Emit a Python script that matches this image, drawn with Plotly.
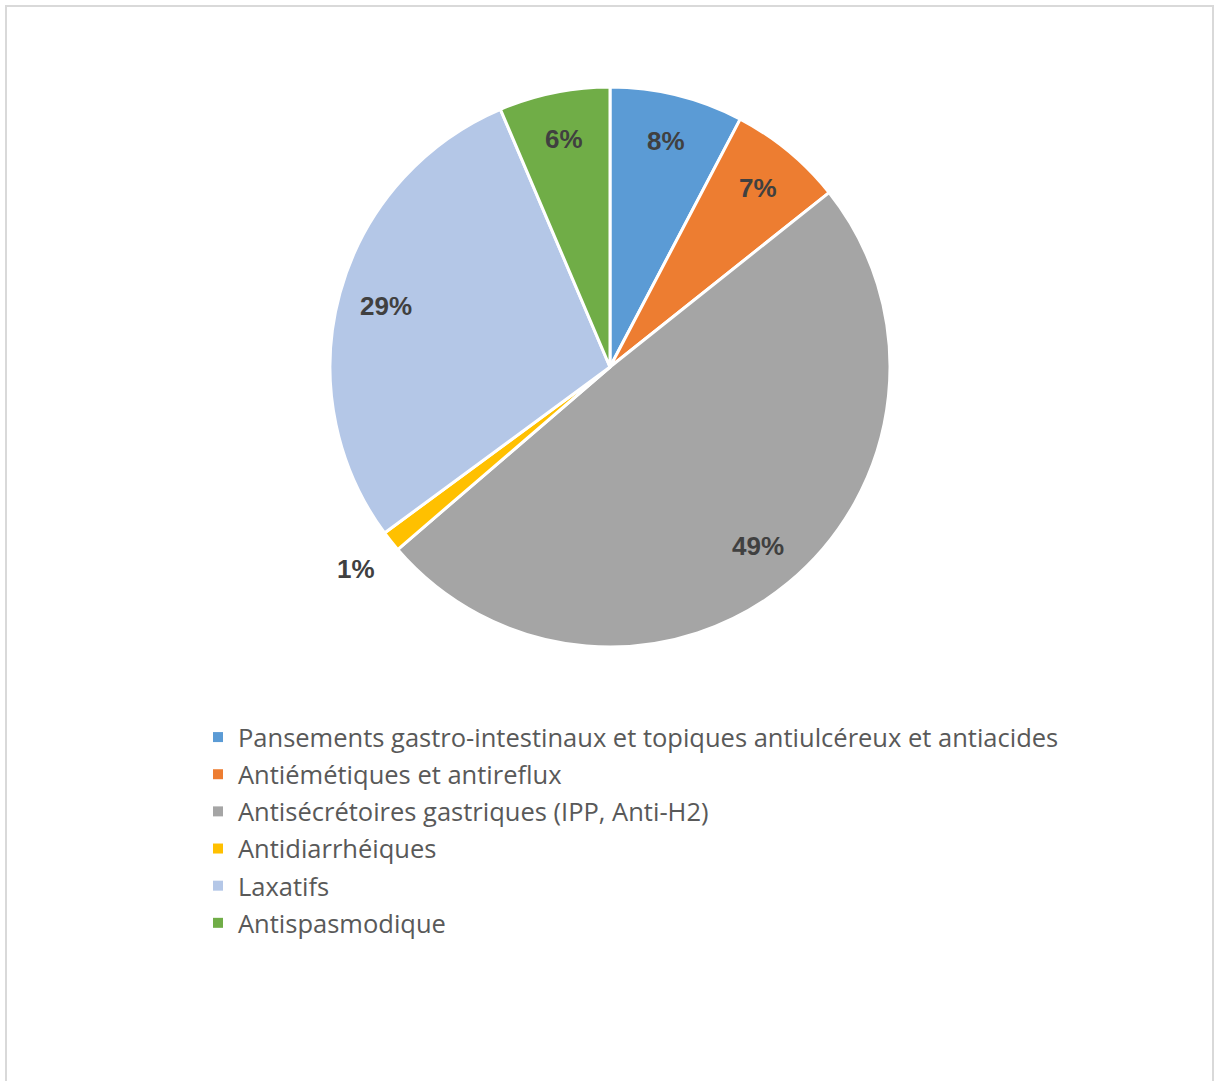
import math
import plotly.graph_objects as go

categories = [
    "Pansements gastro-intestinaux et topiques antiulcéreux et antiacides",
    "Antiémétiques et antireflux",
    "Antisécrétoires gastriques (IPP, Anti-H2)",
    "Antidiarrhéiques",
    "Laxatifs",
    "Antispasmodique",
]
values = [7.7, 6.6, 49.4, 1.2, 28.7, 6.4]
colors = ["#5B9BD5", "#ED7D31", "#A5A5A5", "#FFC000", "#B4C7E7", "#70AD47"]
label_outside = [False, False, False, True, False, False]

W, H = 1214, 1081
cx, cy, r = 610, 367, 280
x0d, x1d = (cx - r) / W, (cx + r) / W
y0d, y1d = (H - cy - r) / H, (H - cy + r) / H

fig = go.Figure()
fig.add_trace(go.Pie(
    labels=categories,
    values=values,
    sort=False,
    direction="clockwise",
    rotation=0,
    marker=dict(colors=colors, line=dict(color="white", width=3)),
    textinfo="none",
    domain=dict(x=[x0d, x1d], y=[y0d, y1d]),
    showlegend=False,
    hoverinfo="label+percent",
))

# data labels placed along each slice's mid-angle (Excel-style)
total = sum(values)
cum = 0.0
annotations = []
for v, outside in zip(values, label_outside):
    mid = (cum + v / 2) / total * 2 * math.pi
    cum += v
    f = 1.16 if outside else 0.83
    px = cx + f * r * math.sin(mid)
    py = cy - f * r * math.cos(mid)
    annotations.append(dict(
        x=px / W, y=1 - py / H, xref="paper", yref="paper",
        text=f"{round(v / total * 100)}%", showarrow=False,
        font=dict(family="Liberation Sans", size=26, color="#404040", weight="bold"),
        xanchor="center", yanchor="middle",
    ))

# legend entries
for i, (name, col) in enumerate(zip(categories, colors)):
    fig.add_trace(go.Scatter(
        x=[None], y=[None], mode="markers",
        marker=dict(symbol="square", size=10, color=col),
        name=name, legendgroup=f"g{i}", showlegend=True,
    ))

fig.update_layout(
    width=W, height=H,
    margin=dict(l=0, r=0, t=0, b=0),
    paper_bgcolor="white", plot_bgcolor="white",
    xaxis=dict(visible=False), yaxis=dict(visible=False),
    legend=dict(
        x=198 / W, xanchor="left",
        y=(H - 714) / H, yanchor="top",
        font=dict(family="Open Sans", size=25.5, color="#595959"),
        tracegroupgap=1,
        bgcolor="rgba(0,0,0,0)",
        traceorder="grouped",
    ),
    annotations=annotations,
    shapes=[dict(
        type="rect", xref="paper", yref="paper",
        x0=6 / W, x1=1213 / W, y0=-0.01, y1=1 - 6 / H,
        line=dict(color="#D9D9D9", width=2), fillcolor="rgba(0,0,0,0)",
    )],
)

fig.write_html("out.html", config={"displayModeBar": False},
               post_script="document.body.style.margin='0px';")
